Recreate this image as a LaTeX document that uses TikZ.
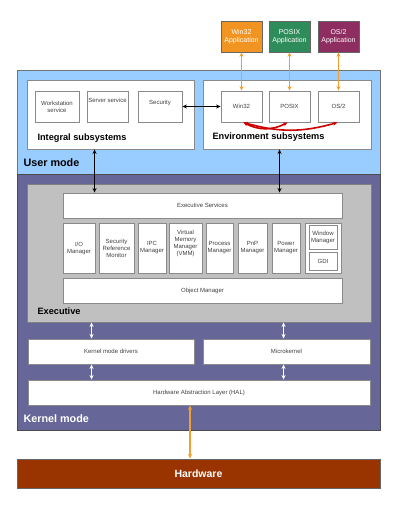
\documentclass[tikz,border=0pt]{standalone}
\usepackage{fontspec}
\setmainfont{Liberation Sans}
\usetikzlibrary{arrows.meta}
\definecolor{usermode}{HTML}{99CCFF}
\definecolor{kernelmode}{HTML}{666699}
\definecolor{execgray}{HTML}{C0C0C0}
\definecolor{hardware}{HTML}{993300}
\definecolor{appwin}{HTML}{F29422}
\definecolor{appposix}{HTML}{2E8B5A}
\definecolor{appos}{HTML}{8E2D5F}
\definecolor{linkorange}{HTML}{F0A030}
\definecolor{linkred}{HTML}{CC0000}
\definecolor{boxline}{HTML}{8A8A8A}
\begin{document}
\begin{tikzpicture}[x=1pt,y=-1pt,
    box/.style={draw=boxline, line width=0.9pt, fill=white, inner sep=0pt, align=center,
        font=\fontsize{6}{7}\selectfont, text=black!75},
    app/.style={draw=black!60, line width=0.6pt, inner sep=0pt, align=center,
        minimum width=41pt, minimum height=31pt, text=white!85,
        font=\fontsize{7}{8}\selectfont},
    area/.style={line width=0.9pt, inner sep=0pt},
    title/.style={anchor=west, font=\bfseries\fontsize{9.2}{11}\selectfont},
    modetitle/.style={anchor=west, font=\bfseries\fontsize{10.8}{13}\selectfont},
    link/.style={<->, line width=1.3pt, >={Stealth[length=4.5pt,width=4pt]}},
    applink/.style={link, draw=linkorange, line width=1.2pt},
    whitelink/.style={link, draw=white, line width=1.6pt},
    redlink/.style={link, draw=linkred, line width=1.6pt}]
    \useasboundingbox (0,0) rectangle (400,515);
    % modes
    \node[area, draw=black!55, fill=usermode, minimum width=363pt, minimum height=104pt] (user) at (198.5,122) {};
    \node[area, draw=black!70, fill=kernelmode, minimum width=363pt, minimum height=256pt] (kernel) at (198.5,302) {};
    \node[modetitle] at (20,163) {User mode};
    \node[modetitle, text=white] at (20,419) {Kernel mode};
    % user mode subsystems
    \node[box, minimum width=167pt, minimum height=69pt] (integral) at (110.5,114.5) {};
    \node[box, minimum width=168pt, minimum height=69pt] (env) at (287,114.5) {};
    \node[title] at (34,138) {Integral subsystems};
    \node[title] at (209,137) {Environment subsystems};
    \node[box, minimum width=44pt, minimum height=31pt] (wks) at (57,106.5) {Workstation\\service};
    \node[box, minimum width=41pt, minimum height=31pt] (srv) at (107.5,106.5) {Server service\\[6pt]};
    \node[box, minimum width=44pt, minimum height=31pt] (sec) at (160,106.5) {Security\\[2pt]};
    \node[box, minimum width=41pt, minimum height=31pt] (win32) at (241.5,106.5) {Win32};
    \node[box, minimum width=41pt, minimum height=31pt] (posix) at (289.5,106.5) {POSIX};
    \node[box, minimum width=41pt, minimum height=31pt] (os2) at (338.5,106.5) {OS/2};
    % applications
    \node[app, fill=appwin] (winapp) at (241.5,36.5) {Win32\\Application};
    \node[app, fill=appposix] (posixapp) at (289.5,36.5) {POSIX\\Application};
    \node[app, fill=appos] (osapp) at (338.5,36.5) {OS/2\\Application};
    % executive
    \node[area, draw=black!50, fill=execgray, minimum width=344pt, minimum height=138pt] (exec) at (199,253) {};
    \node[title] at (34,311) {Executive};
    \node[box, minimum width=279pt, minimum height=25pt] (execsvc) at (202.5,205.5) {Executive Services};
    \node[box, minimum width=279pt, minimum height=25pt] (objmgr) at (202.5,290.5) {Object Manager};
    \foreach \nm/\x/\w/\txt in {io/79/32/{I/O\\Manager},
                                srm/116.5/35/{Security\\Reference\\Monitor},
                                ipc/152/28/{IPC\\Manager},
                                vmm/185.5/33/{Virtual\\Memory\\Manager\\(VMM)\\[4pt]},
                                proc/219.5/27/{Process\\Manager},
                                pnp/252.5/29/{PnP\\Manager},
                                power/286/28/{Power\\Manager}} {
        \node[box, minimum width=\w pt, minimum height=50pt] (\nm) at (\x,248) {\txt};
    }
    \node[box, minimum width=36pt, minimum height=50pt] (wingdi) at (323,248) {};
    \node[box, minimum width=28pt, minimum height=24pt] (winmgr) at (323,237) {Window\\Manager};
    \node[box, minimum width=28pt, minimum height=18pt] (gdi) at (323,261) {GDI};
    % kernel layers
    \node[box, minimum width=166pt, minimum height=25pt] (kmd) at (111,351.5) {Kernel mode drivers};
    \node[box, minimum width=167pt, minimum height=25pt] (micro) at (286.5,351.5) {Microkernel};
    \node[box, minimum width=342pt, minimum height=25pt] (hal) at (199,392.5) {Hardware Abstraction Layer (HAL)};
    % hardware
    \node[area, draw=black!60, fill=hardware, minimum width=363pt, minimum height=29pt,
        text=white, font=\bfseries\fontsize{10.5}{12}\selectfont] (hw) at (198.5,473.5) {Hardware};
    % links
    \draw[applink] (winapp) -- (win32);
    \draw[applink] (posixapp) -- (posix);
    \draw[applink] (osapp) -- (os2);
    \draw[link] (sec) -- (win32);
    \draw[redlink] ([xshift=2pt]win32.south) to[bend right=28] ([xshift=-2pt]posix.south);
    \draw[redlink] ([xshift=2pt]win32.south) to[bend right=16] ([xshift=-1pt]os2.south);
    \draw[link] ([xshift=68pt]integral.south west) -- ([xshift=68pt]integral.south west |- execsvc.north);
    \draw[link] ([xshift=77pt]env.south west) -- ([xshift=77pt]env.south west |- execsvc.north);
    \draw[whitelink] ([xshift=64pt]kmd.north west) -- ([xshift=64pt]kmd.north west |- exec.south);
    \draw[whitelink] ([xshift=81pt]micro.north west) -- ([xshift=81pt]micro.north west |- exec.south);
    \draw[whitelink] ([xshift=64pt]kmd.south west) -- ([xshift=64pt]kmd.south west |- hal.north);
    \draw[whitelink] ([xshift=81pt]micro.south west) -- ([xshift=81pt]micro.south west |- hal.north);
    \draw[applink] ([xshift=-9pt]hal.south) -- ([xshift=-9pt]hal.south |- hw.north);
\end{tikzpicture}
\end{document}
